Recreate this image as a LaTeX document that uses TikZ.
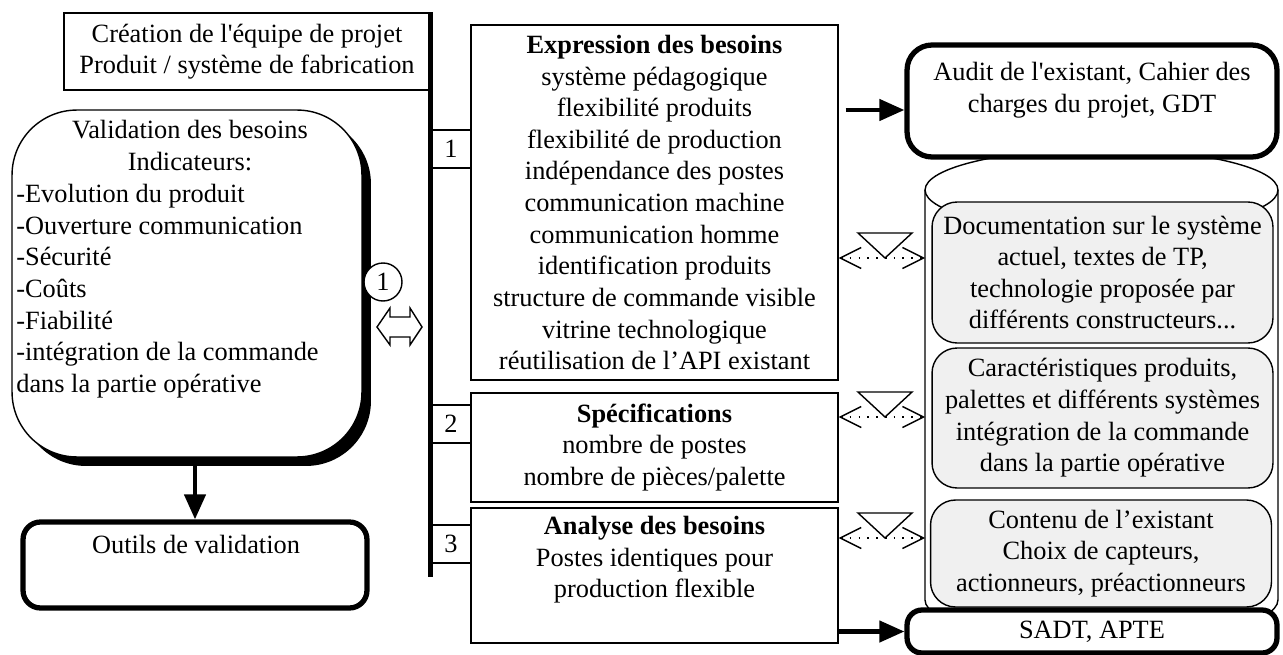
\documentclass[tikz,border=0pt]{standalone}
\usepackage{fontspec}
\setmainfont{Liberation Serif}
\usepackage{tikz}
\usetikzlibrary{arrows.meta, positioning, shadows}

\begin{document}
\begin{tikzpicture}[x=0.02cm, y=-0.02cm,
    every node/.style={font=\fontsize{15}{18}\selectfont, inner sep=0pt},
    box/.style={draw, line width=0.8pt, align=center},
    tab/.style={draw, line width=0.8pt, minimum width=0.8cm, minimum height=0.76cm},
    thickbox/.style={draw, line width=3pt, rounded corners=0.35cm, fill=white, align=center},
    docbox/.style={draw, line width=0.8pt, rounded corners=0.5cm, fill=gray!12, align=center, minimum width=6.82cm},
    arrow/.style={-{Triangle[length=0.5cm, width=0.42cm]}, line width=2.5pt},
    spine/.style={line width=2.8pt},
    dotlink/.style={{Straight Barb[length=0.42cm, width=0.42cm]}-{Straight Barb[length=0.42cm, width=0.42cm]}, line width=0.8pt, dash pattern=on 1pt off 4pt},
    marker/.style={line width=0.8pt}
]
\useasboundingbox (0,0) rectangle (1283,655);

% --- Project team and spine ---
\node[box, minimum width=7.32cm, minimum height=1.54cm] (crea) at (247,51.5) {Création de l\textquotesingle équipe de projet\\Produit / système de fabrication};
\coordinate (spineend) at (431,577);
\draw[spine] (crea.north east) -- (crea.north east |- spineend);

% --- Validation column ---
\node[draw, line width=0.8pt, fill=white, rounded corners=1.3cm, minimum width=7cm, minimum height=6.94cm,
      drop shadow={shadow xshift=0.18cm, shadow yshift=-0.18cm, opacity=1, fill=black}] (valid) at (187,283.5) {};
\node[anchor=north, align=center] (vtitle) at (190,120) {Validation des besoins\\Indicateurs:};
\node[anchor=north west, align=left] (vlist) at (16,184) {-Evolution du produit\\-Ouverture communication\\-Sécurité\\-Coûts\\-Fiabilité\\-intégration de la commande\\dans la partie opérative};
\node[draw, circle, fill=white, line width=0.8pt, minimum size=0.76cm] (one) at (383,282) {1};
\draw[line width=0.8pt, fill=white] (377,327) -- (390,308) -- (390,317) -- (410,317) -- (410,308) -- (422,327)
    -- (410,345) -- (410,337) -- (390,337) -- (390,345) -- cycle;

\node[thickbox, minimum width=6.88cm, minimum height=1.72cm] (outils) at (195,565) {};
\node[anchor=north] (outilstxt) at (196,535) {Outils de validation};
\draw[arrow] (valid.south -| outils.north) -- (outils.north);

% --- Steps 1, 2, 3 ---
\node[tab] (tab1) at (451,149) {1};
\node[tab] (tab2) at (451,424) {2};
\node[tab] (tab3) at (451,544) {3};

\node[box, minimum width=7.34cm, minimum height=7.1cm] (expr) at (654.5,202.5) {\textbf{Expression des besoins}\\système pédagogique\\flexibilité produits\\flexibilité de production\\indépendance des postes\\communication machine\\communication homme\\identification produits\\structure de commande visible\\vitrine technologique\\réutilisation de l’API existant};
\node[box, minimum width=7.34cm, minimum height=2.18cm] (spec) at (654.5,447.5) {\textbf{Spécifications}\\nombre de postes\\nombre de pièces/palette};
\node[box, minimum width=7.34cm, minimum height=2.7cm] (anal) at (654.5,575.5) {};
\node[anchor=north, align=center] (analtxt) at (654.5,516) {\textbf{Analyse des besoins}\\Postes identiques pour\\production flexible};

% --- Resources (cylinder) ---
\coordinate (cylleft) at (925,190);
\draw[line width=0.8pt] (1101.5,190) ellipse [x radius=3.53cm, y radius=0.82cm];
\draw[line width=0.8pt] (cylleft) -- (925,600) arc[start angle=180, end angle=360, x radius=3.53cm, y radius=0.82cm] -- (1278,190);

\node[docbox, minimum height=2.82cm] (doc) at (1102.5,272.5) {Documentation sur le système\\actuel, textes de TP,\\technologie proposée par\\différents constructeurs...};
\node[docbox, minimum height=2.8cm] (carac) at (1102.5,418) {Caractéristiques produits,\\palettes et différents systèmes\\intégration de la commande\\dans la partie opérative};
\node[docbox, minimum height=2.14cm] (cont) at (1101,553.5) {Contenu de l’existant\\Choix de capteurs,\\actionneurs, préactionneurs};

% --- Results ---
\node[thickbox, minimum width=7.4cm, minimum height=2.24cm, rounded corners=0.5cm] (audit) at (1092,101) {};
\node[anchor=north, align=center] (audittxt) at (1092,62) {Audit de l\textquotesingle existant, Cahier des\\charges du projet, GDT};
\node[thickbox, minimum width=7.4cm, minimum height=0.86cm, rounded corners=0.3cm] (sadt) at (1092,631.5) {SADT, APTE};

\coordinate (auditin) at ([yshift=-0.18cm]audit.west);
\draw[arrow, shorten <=0.14cm] (expr.east |- auditin) -- (auditin);
\draw[arrow] (anal.east |- sadt.west) -- (sadt.west);

% links to resources
\foreach \src/\yy in {expr/258, spec/417, anal/538} {
  \coordinate (m) at (885,\yy);
  \draw[dotlink] (\src.east |- m) -- (cylleft |- m);
  \draw[marker] (m) -- ++(-27,-25) -- ++(54,0) -- cycle;
}

\end{tikzpicture}
\end{document}
